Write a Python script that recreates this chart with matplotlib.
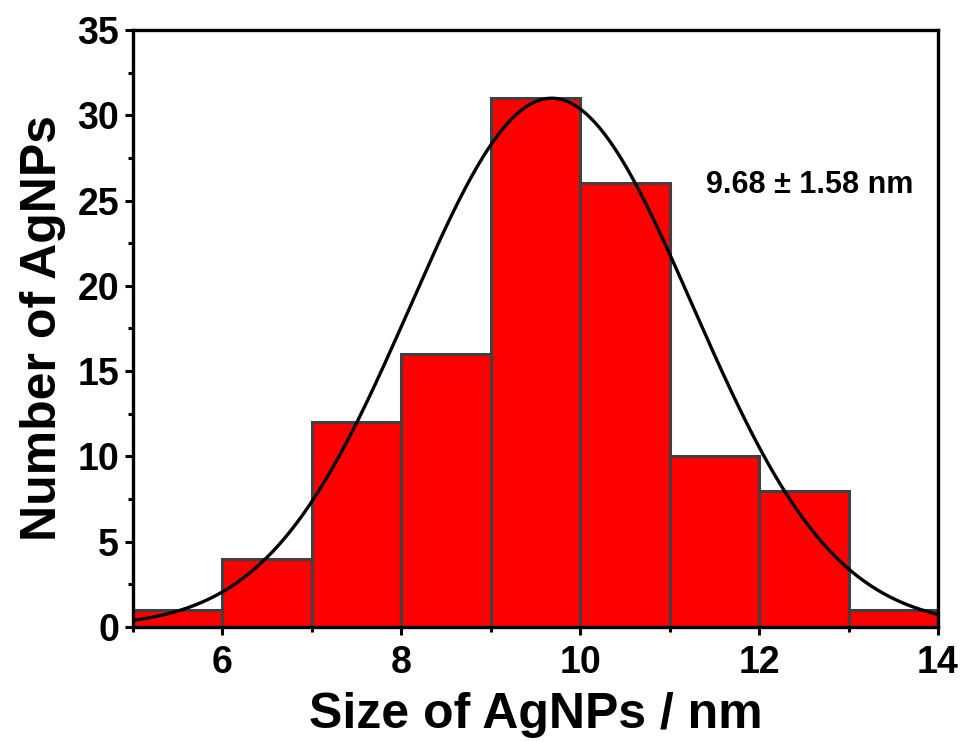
import numpy as np
import matplotlib
matplotlib.use("Agg")
import matplotlib.pyplot as plt
from matplotlib.ticker import MultipleLocator

bin_edges = [5, 6, 7, 8, 9, 10, 11, 12, 13, 14]
counts = [1, 4, 12, 16, 31, 26, 10, 8, 1]
fit_center = 9.68
fit_sigma = 1.58
fit_amplitude = 31.0
annotation = "9.68 ± 1.58 nm"

plt.rcParams['font.family'] = ['Liberation Sans', 'DejaVu Sans']
plt.rcParams['font.weight'] = 'bold'

fig = plt.figure(figsize=(9.65, 7.42), dpi=100)
ax = fig.add_axes([0.1378, 0.155, 0.972 - 0.1378, 0.9596 - 0.155])

lefts = np.array(bin_edges[:-1])
widths = np.diff(bin_edges)
ax.bar(lefts, counts, width=widths, align='edge', color='#ff0000',
       edgecolor='#404040', linewidth=2.2, zorder=2)

xs = np.linspace(bin_edges[0], bin_edges[-1], 400)
ys = fit_amplitude * np.exp(-0.5 * ((xs - fit_center) / fit_sigma) ** 2)
ax.plot(xs, ys, color='black', linewidth=2.4, zorder=3)

ax.set_xlim(5, 14)
ax.set_ylim(0, 35)
ax.xaxis.set_major_locator(MultipleLocator(2))
ax.xaxis.set_minor_locator(MultipleLocator(1))
ax.yaxis.set_major_locator(MultipleLocator(5))
ax.yaxis.set_minor_locator(MultipleLocator(2.5))

for s in ax.spines.values():
    s.set_linewidth(2.4)
    s.set_zorder(4)
ax.tick_params(which='major', direction='out', length=6, width=2.2,
               labelsize=27)
ax.tick_params(axis='y', which='major', pad=4)
ax.tick_params(axis='x', which='major', pad=7)
ax.tick_params(which='minor', direction='out', length=3.5, width=2.2)
ax.tick_params(top=False, right=False, which='both')
for lab in ax.get_xticklabels() + ax.get_yticklabels():
    lab.set_fontweight('bold')

ax.set_xlabel('Size of AgNPs / nm', fontsize=36, fontweight='bold', labelpad=8)
ax.set_ylabel('Number of AgNPs', fontsize=36, fontweight='bold', labelpad=8)

ax.text(12.57, 25.9, annotation, fontsize=22, fontweight='bold',
        ha='center', va='center', zorder=5)

fig.savefig('out.png', dpi=100)
